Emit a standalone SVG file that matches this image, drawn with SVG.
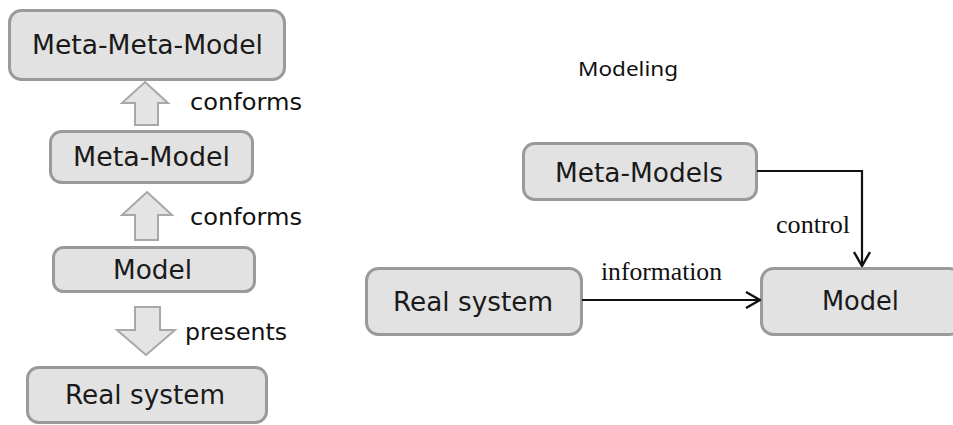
<svg xmlns="http://www.w3.org/2000/svg" width="953" height="425" viewBox="0 0 953 425">
<defs>
<style>
.box{fill:#e2e2e2;stroke:#9a9a9a;stroke-width:3}
.bt{font-family:"DejaVu Sans",Verdana,sans-serif;font-size:26px;fill:#1a1a1a}
.lbl{font-family:"DejaVu Sans",Verdana,sans-serif;font-size:23px;fill:#111}
.ser{font-family:"Liberation Serif","Times New Roman",serif;font-size:25px;fill:#111}
.blk{fill:#e4e4e4;stroke:#a8a8a8;stroke-width:2;stroke-linejoin:miter}
.ln{fill:none;stroke:#111;stroke-width:2.2}
</style>
<marker id="chev" viewBox="0 0 16 18" refX="15" refY="9" markerWidth="16" markerHeight="18" markerUnits="userSpaceOnUse" orient="auto">
<path d="M1,1 L15,9 L1,17" fill="none" stroke="#111" stroke-width="2.4"/>
</marker>
</defs>
<rect width="953" height="425" fill="#fff"/>

<g id="meta-meta-model">
<rect class="box" x="9.5" y="10.5" width="275" height="69" rx="12"/>
<text class="bt" x="32" y="54" textLength="231" lengthAdjust="spacingAndGlyphs">Meta-Meta-Model</text>
</g>
<g id="meta-model">
<rect class="box" x="50.5" y="131.5" width="202" height="51" rx="11"/>
<text class="bt" x="73" y="166" textLength="157" lengthAdjust="spacingAndGlyphs">Meta-Model</text>
</g>
<g id="model-left">
<rect class="box" x="53.5" y="247.5" width="201" height="44" rx="10"/>
<text class="bt" x="113" y="279" textLength="79" lengthAdjust="spacingAndGlyphs">Model</text>
</g>
<g id="real-system-left">
<rect class="box" x="27.5" y="367.5" width="239" height="55" rx="11"/>
<text class="bt" x="65" y="404" textLength="160" lengthAdjust="spacingAndGlyphs">Real system</text>
</g>

<g id="meta-models">
<rect class="box" x="523.5" y="143.5" width="233" height="56" rx="11"/>
<text class="bt" x="555" y="182" textLength="168" lengthAdjust="spacingAndGlyphs">Meta-Models</text>
</g>
<g id="real-system-right">
<rect class="box" x="366.5" y="268.5" width="215" height="66" rx="12"/>
<text class="bt" x="393" y="311" textLength="160" lengthAdjust="spacingAndGlyphs">Real system</text>
</g>
<g id="model-right">
<rect class="box" x="761.5" y="268.5" width="200" height="66" rx="12"/>
<text class="bt" x="822" y="310" textLength="77" lengthAdjust="spacingAndGlyphs">Model</text>
</g>

<text id="title" x="578" y="76" font-family="'Noto Sans','Open Sans',sans-serif" font-size="19" fill="#111" textLength="100" lengthAdjust="spacingAndGlyphs">Modeling</text>

<g id="connectors">
<path class="blk" d="M145,82 L168,103 L158,103 L158,125 L135,125 L135,103 L122,103 Z"/>
<text class="lbl" x="190" y="110" textLength="112" lengthAdjust="spacingAndGlyphs">conforms</text>
<path class="blk" d="M147,192 L172,215 L158,215 L158,240 L135,240 L135,215 L122,215 Z"/>
<text class="lbl" x="190" y="225" textLength="112" lengthAdjust="spacingAndGlyphs">conforms</text>
<path class="blk" d="M135,307 L160,307 L160,330 L175,330 L146,355 L117,330 L135,330 Z"/>
<text class="lbl" x="185" y="340" textLength="102" lengthAdjust="spacingAndGlyphs">presents</text>

<path class="ln" d="M757,171 L862,171 L862,266" marker-end="url(#chev)"/>
<text class="ser" x="776" y="233" textLength="74" lengthAdjust="spacingAndGlyphs">control</text>
<path class="ln" d="M582,300 L760,300" marker-end="url(#chev)"/>
<text class="ser" x="601" y="280" textLength="121" lengthAdjust="spacingAndGlyphs">information</text>
</g>
</svg>
